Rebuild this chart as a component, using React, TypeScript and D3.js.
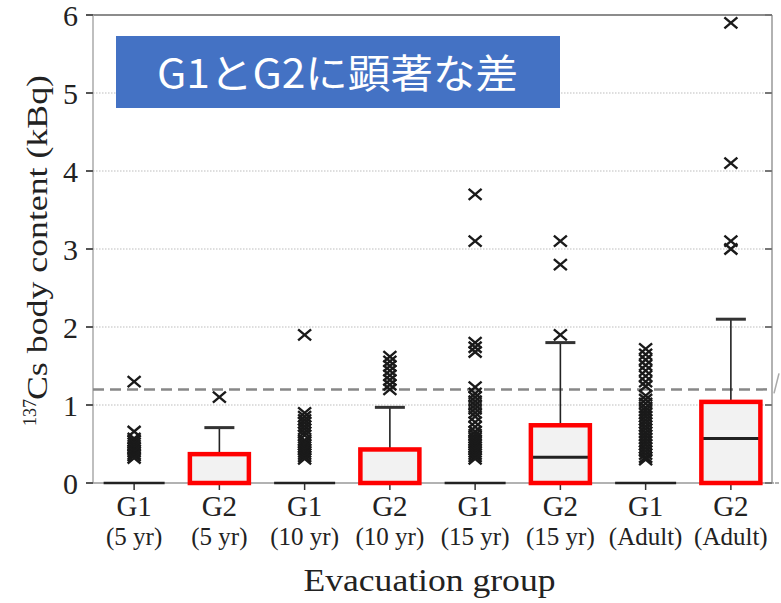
import React from "react";
import * as d3 from "d3";

const categories = ["G1", "G2", "G1", "G2", "G1", "G2", "G1", "G2"];
const subLabels = ["(5 yr)", "(5 yr)", "(10 yr)", "(10 yr)", "(15 yr)", "(15 yr)", "(Adult)", "(Adult)"];
const q1 = [0, 0, 0, 0, 0, 0, 0, 0];
const medians = [0, 0, 0, 0, 0, 0.33, 0, 0.57];
const q3 = [0, 0.37, 0, 0.43, 0, 0.74, 0, 1.04];
const whiskerHigh = [0, 0.71, 0, 0.97, 0, 1.8, 0, 2.1];
const highlighted = [false, true, false, true, false, true, false, true];

const outG1_5 = [1.3, 0.66, 0.57, 0.54, 0.51, 0.48, 0.45, 0.42, 0.4, 0.37, 0.35, 0.32];
const outG2_5 = [1.1];
const outG1_10 = [1.9, 0.9, 0.85, 0.81, 0.77, 0.73, 0.69, 0.65, 0.61, 0.55, 0.52, 0.49, 0.46, 0.43, 0.4, 0.37, 0.34, 0.31];
const outG2_10 = [1.62, 1.56, 1.5, 1.44, 1.38, 1.32, 1.26, 1.2];
const outG1_15 = [3.7, 3.1, 1.8, 1.74, 1.68, 1.23, 1.15, 1.1, 1.05, 1.0, 0.95, 0.9, 0.85, 0.78, 0.72, 0.66, 0.62, 0.58, 0.55, 0.52, 0.49, 0.46, 0.43, 0.4, 0.37, 0.34, 0.31];
const outG2_15 = [3.1, 2.8, 1.9];
const outG1_A = [1.72, 1.65, 1.58, 1.51, 1.44, 1.37, 1.3, 1.24, 1.12, 1.07, 1.02, 0.97, 0.93, 0.89, 0.85, 0.81, 0.77, 0.73, 0.69, 0.65, 0.61, 0.57, 0.53, 0.49, 0.45, 0.41, 0.37, 0.33, 0.3];
const outG2_A = [5.9, 4.1, 3.1, 3.0];
const outliers = [outG1_5, outG2_5, outG1_10, outG2_10, outG1_15, outG2_15, outG1_A, outG2_A];

const yTicks = [0, 1, 2, 3, 4, 5, 6];
const gridValues = [1, 2, 3, 4, 5];
const referenceLevel = 1.2;
const titleText = "G1とG2に顕著な差";
const xTitle = "Evacuation group";
const yTitleSup = "137";
const yTitleMain = "Cs body content (kBq)";

const W = 781;
const H = 603;
const serif = "'Liberation Serif', 'Times New Roman', serif";

export default function App() {
  const y = d3.scaleLinear().domain([0, 6]).range([483, 15]);
  const x = d3.scaleBand<number>().domain(d3.range(8)).range([91.5, 773.5]).paddingInner(0);
  const cx = (i: number) => (x(i) as number) + x.bandwidth() / 2;
  const left = 93;
  const right = 772;
  const boxW = 59;
  const capW = 30;

  return (
    <svg width={W} height={H} style={{ position: "absolute", left: 0, top: 0, background: "#fff" }}>
      {/* grid */}
      {gridValues.map((v) => (
        <line key={"g" + v} x1={left} x2={right} y1={y(v)} y2={y(v)} stroke="#bdbdbd" strokeWidth={1.2} strokeDasharray="1.5 1.5" />
      ))}
      {/* frame */}
      <line x1={left} x2={right} y1={y(6)} y2={y(6)} stroke="#666" strokeWidth={1.6} />
      <line x1={left} x2={left} y1={y(6)} y2={y(0)} stroke="#aaa" strokeWidth={1.5} />
      <line x1={right} x2={right} y1={y(6)} y2={y(0)} stroke="#999" strokeWidth={1.5} />
      <line x1={left} x2={right + 2} y1={y(0)} y2={y(0)} stroke="#999" strokeWidth={1.5} />
      {/* ticks */}
      {yTicks.map((v) => (
        <g key={"t" + v}>
          <line x1={left - 7} x2={left} y1={y(v)} y2={y(v)} stroke="#555" strokeWidth={2} />
          <line x1={right - 7} x2={right} y1={y(v)} y2={y(v)} stroke="#777" strokeWidth={2} />
          <text x={78} y={y(v) + 10.5} textAnchor="end" fontFamily={serif} fontSize={30} fill="#222">{v}</text>
        </g>
      ))}
      <line x1={right + 3} x2={right + 7} y1={y(0)} y2={y(0)} stroke="#999" strokeWidth={1.5} />
      {/* reference dashed line */}
      <line x1={left} x2={right} y1={y(referenceLevel)} y2={y(referenceLevel)} stroke="#888" strokeWidth={2.5} strokeDasharray="11 6" />
      <line x1={right + 2} x2={right + 7} y1={y(referenceLevel) + 4} y2={y(referenceLevel) - 16} stroke="#aaa" strokeWidth={1.5} />
      {/* boxes */}
      {categories.map((c, i) => {
        const xc = cx(i);
        const outs = outliers[i];
        return (
          <g key={"b" + i}>
            <line x1={xc} x2={xc} y1={y(0)} y2={y(0) + 7} stroke="#333" strokeWidth={1.5} />
            {whiskerHigh[i] > q3[i] && (
              <g>
                <line x1={xc} x2={xc} y1={y(q3[i])} y2={y(whiskerHigh[i])} stroke="#222" strokeWidth={1.6} />
                <line x1={xc - capW / 2} x2={xc + capW / 2} y1={y(whiskerHigh[i])} y2={y(whiskerHigh[i])} stroke="#333" strokeWidth={3} />
              </g>
            )}
            {q3[i] > q1[i] ? (
              <g>
                <rect x={xc - boxW / 2} y={y(q3[i])} width={boxW} height={y(q1[i]) - y(q3[i])} fill="#f2f2f2" />
                <line x1={xc - boxW / 2} x2={xc + boxW / 2} y1={y(medians[i])} y2={y(medians[i])} stroke="#222" strokeWidth={3} />
                <rect x={xc - boxW / 2} y={y(q3[i])} width={boxW} height={y(q1[i]) - y(q3[i])} fill="none" stroke={highlighted[i] ? "#ff0000" : "#222"} strokeWidth={highlighted[i] ? 4.5 : 1.5} />
              </g>
            ) : (
              <line x1={xc - boxW / 2 - 1} x2={xc + boxW / 2 + 1} y1={y(medians[i])} y2={y(medians[i])} stroke="#222" strokeWidth={2.5} />
            )}
            {outs.map((v, k) => (
              <path key={k} transform={`translate(${xc},${y(v)})`} d="M-6.5,-5.5L6.5,5.5M-6.5,5.5L6.5,-5.5" stroke="#1a1a1a" strokeWidth={2.4} fill="none" />
            ))}
            <text x={xc} y={516} textAnchor="middle" fontFamily={serif} fontSize={29} fill="#222">{c}</text>
            <text x={xc} y={545} textAnchor="middle" fontFamily={serif} fontSize={25} fill="#222">{subLabels[i]}</text>
          </g>
        );
      })}
      {/* axis titles */}
      <text x={(left + right) / 2 - 3} y={591} textAnchor="middle" fontFamily={serif} fontSize={32} fill="#222" textLength={252} lengthAdjust="spacingAndGlyphs">{xTitle}</text>
      <g transform="translate(47,426) rotate(-90)">
        <text x={0} y={-11} fontFamily={serif} fontSize={18} fill="#222">{yTitleSup}</text>
        <text x={26} y={0} fontFamily={serif} fontSize={30} fill="#222" textLength={325} lengthAdjust="spacingAndGlyphs">{yTitleMain}</text>
      </g>
      {/* annotation */}
      <rect x={116} y={36} width={444} height={72} fill="#4472C4" />
      <text x={157} y={88} fontFamily="'Noto Sans CJK JP', 'Noto Sans', sans-serif" fontSize={40} fill="#fff" textLength={361} lengthAdjust="spacingAndGlyphs">{titleText}</text>
    </svg>
  );
}
